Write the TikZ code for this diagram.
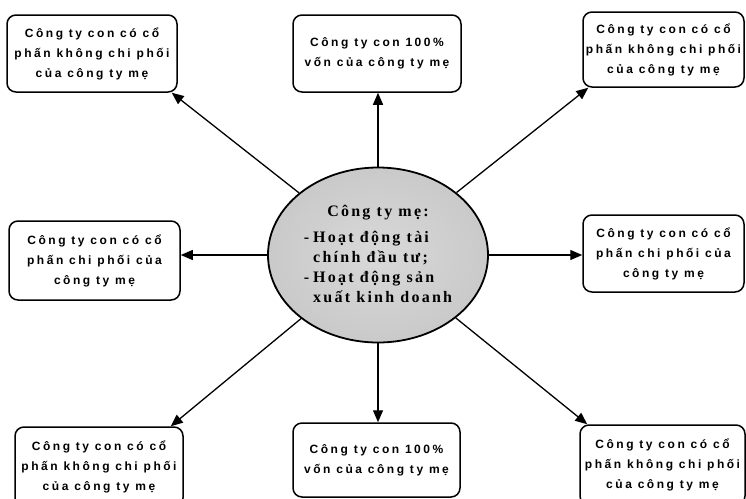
\documentclass[tikz,border=0pt]{standalone}
\usepackage{fontspec}
\usetikzlibrary{shapes.geometric,arrows.meta}
\newfontfamily\boxfont{Liberation Sans Bold}[LetterSpace=21]
\newfontfamily\ellfont{Liberation Serif Bold}[LetterSpace=14]
\pgfdeclareradialshading{ellshade}{\pgfpoint{0bp}{0bp}}{color(0bp)=(gray!30); color(25bp)=(gray!42); color(42bp)=(gray!62); color(50bp)=(gray!78); color(100bp)=(gray!78)}
\begin{document}
\begin{tikzpicture}[x=1pt,y=-1pt,
  box/.style={draw, line width=1.5pt, rounded corners=9pt, align=center, inner sep=0pt,
    font=\boxfont\fontsize{12}{20}\selectfont},
  arr/.style={line width=1.3pt, -{Triangle[length=12pt,width=10pt]}}]
\useasboundingbox (0,0) rectangle (746,498);
\node[box, minimum width=170pt, minimum height=77pt] (TL) at (92,53.5) {Công ty con có cổ\\phấn không chi phối\\của công ty mẹ};
\node[box, minimum width=168pt, minimum height=77pt] (TC) at (377,53.5) {Công ty con 100\%\\vốn của công ty mẹ};
\node[box, minimum width=161pt, minimum height=75pt] (TR) at (663.5,49.5) {Công ty con có cổ\\phấn không chi phối\\của công ty mẹ};
\node[box, minimum width=171pt, minimum height=79pt] (ML) at (94.5,260.5) {Công ty con có cổ\\phấn chi phối của\\công ty mẹ};
\node[box, minimum width=161pt, minimum height=77pt] (MR) at (663.5,253.5) {Công ty con có cổ\\phấn chi phối của\\công ty mẹ};
\node[box, minimum width=168pt, minimum height=80pt] (BL) at (99,467) {Công ty con có cổ\\phấn không chi phối\\của công ty mẹ};
\node[box, minimum width=167pt, minimum height=74pt] (BC) at (376.5,460) {Công ty con 100\%\\vốn của công ty mẹ};
\node[box, minimum width=165pt, minimum height=80pt] (BR) at (662.5,465) {Công ty con có cổ\\phấn không chi phối\\của công ty mẹ};
\node[ellipse, draw, line width=1.8pt, shading=ellshade, minimum width=220pt, minimum height=175pt, inner sep=0pt,
  font=\ellfont\fontsize{16}{20}\selectfont] (E) at (378,255)
  {\begin{tabular}{@{}l@{\hspace{4pt}}l@{}}\multicolumn{2}{c}{Công ty mẹ:}\\[6pt]
   -&Hoạt động tài\\ &chính đầu tư;\\ -&Hoạt động sản\\ &xuất kinh doanh\end{tabular}};
\draw[arr] (E) -- ([xshift=-6pt]TL.south east);
\draw[arr] (E.north) -- (E.north |- TC.south);
\draw[arr] (E) -- ([xshift=6pt]TR.south west);
\draw[arr] (E.west) -- (E.west -| ML.east);
\draw[arr] (E.east) -- (E.east -| MR.west);
\draw[arr] (E) -- ([xshift=-13pt]BL.north east);
\draw[arr] (E.south) -- (E.south |- BC.north);
\draw[arr] (E) -- ([xshift=8pt]BR.north west);
\end{tikzpicture}
\end{document}
